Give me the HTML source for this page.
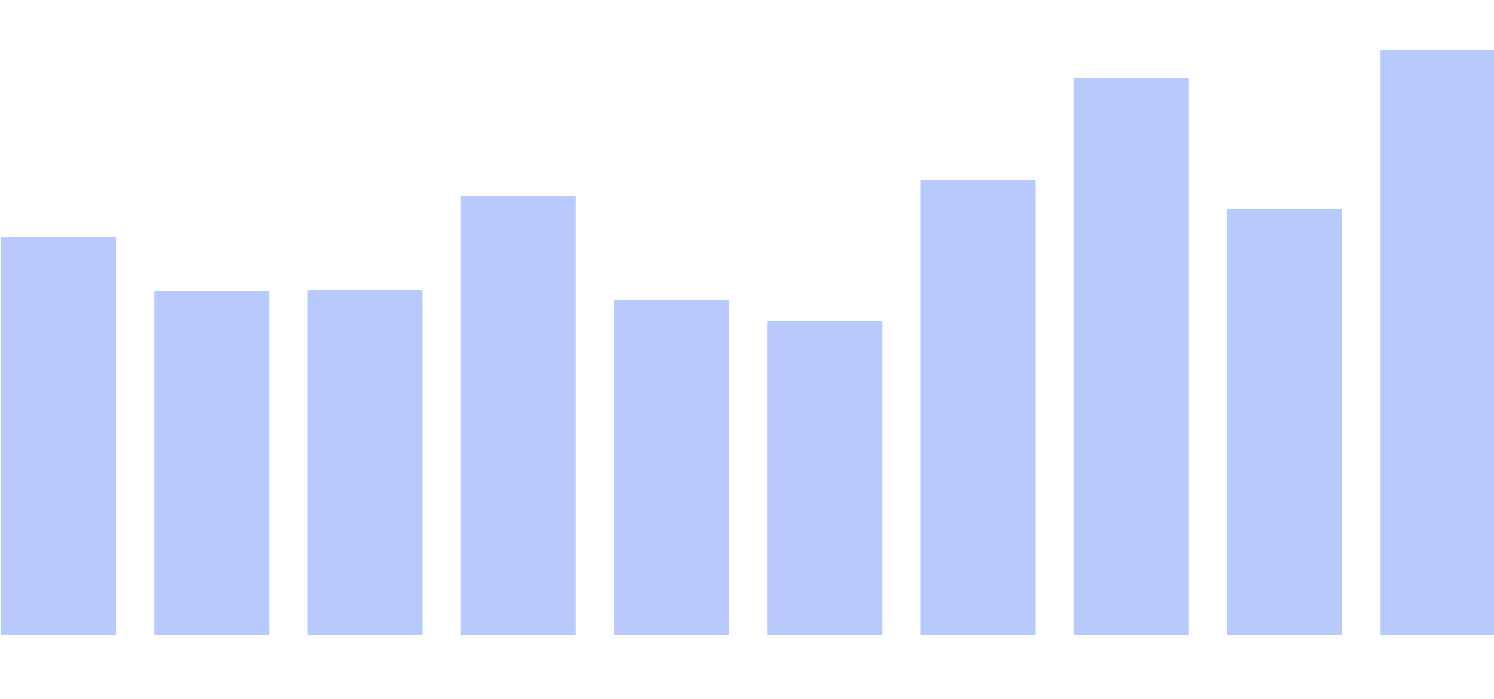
<!DOCTYPE html>
<html>
<head>
<meta charset="utf-8">
<style>
  html, body { margin: 0; padding: 0; background: #ffffff; }
  body { width: 1494px; height: 699px; overflow: hidden; font-family: "Liberation Sans", sans-serif; }
  svg { display: block; }
</style>
</head>
<body>
<svg id="chart" width="1494" height="699" viewBox="0 0 1494 699" xmlns="http://www.w3.org/2000/svg">
  <g id="bars"></g>
</svg>
<script>
const categories = ["c1", "c2", "c3", "c4", "c5", "c6", "c7", "c8", "c9", "c10"];
const values = [398, 344, 345, 439, 335, 314, 455, 557, 426, 585];

const baseline = 635;
const pxPerUnit = 1;
const x0 = 1;
const step = 153.25;
const barW = 115;

function xScale(i) { return x0 + i * step; }
function yScale(v) { return baseline - v * pxPerUnit; }

const g = document.getElementById('bars');
categories.forEach((c, i) => {
  const r = document.createElementNS('http://www.w3.org/2000/svg', 'rect');
  const y = yScale(values[i]);
  r.setAttribute('x', xScale(i));
  r.setAttribute('y', y);
  r.setAttribute('width', barW);
  r.setAttribute('height', baseline - y);
  r.setAttribute('fill', '#b8c9fd');
  
  
  g.appendChild(r);
});
</script>
</body>
</html>
